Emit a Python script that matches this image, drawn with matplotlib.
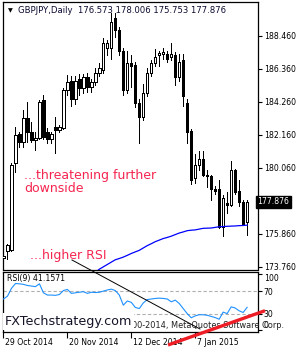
import matplotlib
matplotlib.use("Agg")
import matplotlib.pyplot as plt
import matplotlib.transforms as mtransforms
from matplotlib.lines import Line2D
import numpy as np

# ---------------- data ----------------
symbol_title = "GBPJPY,Daily  176.573 178.006 175.753 177.876"
opens = [174.30, 174.75, 174.81, 180.35, 182.20, 181.70, 183.20, 182.33, 181.80, 181.95,
         184.37, 182.30, 181.90, 182.64, 182.46, 182.58, 185.00, 185.60, 184.40, 185.70,
         185.10, 185.80, 185.20, 185.50, 186.10, 186.30, 187.70, 187.70, 189.60, 188.80,
         187.50, 185.00, 186.70, 186.60, 184.20, 183.30, 184.80, 186.10, 186.70, 187.20,
         187.30, 187.30, 187.10, 187.20, 185.80, 186.90, 184.20, 182.40, 179.40, 180.20,
         180.60, 179.60, 179.50, 178.70, 178.70, 176.30, 177.80, 177.70, 179.90, 178.60,
         177.90, 176.573]
highs = [174.50, 175.20, 180.35, 182.64, 182.30, 183.70, 184.24, 182.96, 182.33, 184.37,
         184.70, 182.60, 182.33, 183.30, 182.80, 185.10, 185.96, 185.90, 185.90, 186.00,
         186.00, 186.10, 185.70, 186.40, 186.70, 188.30, 188.20, 189.90, 189.90, 189.00,
         187.70, 187.50, 187.20, 186.80, 184.40, 185.40, 186.40, 186.90, 187.60, 187.50,
         187.70, 187.50, 188.00, 187.40, 187.30, 187.30, 184.40, 182.50, 180.90, 181.10,
         181.10, 179.90, 179.60, 178.90, 179.30, 178.30, 178.50, 180.50, 180.00, 179.30,
         178.00, 178.006]
lows = [174.23, 174.23, 174.75, 179.78, 181.40, 181.40, 181.70, 181.70, 181.20, 181.90,
        181.90, 181.60, 181.60, 181.00, 182.30, 182.50, 184.70, 183.98, 184.10, 184.70,
        184.80, 184.90, 184.90, 185.30, 185.90, 186.10, 187.20, 187.00, 188.40, 187.20,
        184.70, 184.80, 185.20, 183.90, 181.60, 183.10, 184.60, 185.90, 186.50, 186.50,
        187.00, 186.80, 186.90, 185.30, 185.60, 184.00, 181.60, 179.00, 179.10, 179.90,
        179.50, 178.80, 178.00, 178.40, 176.20, 175.70, 177.20, 177.60, 178.40, 177.60,
        176.40, 175.753]
closes = [174.42, 175.13, 180.23, 182.14, 181.70, 183.20, 182.33, 181.80, 181.95, 184.24,
          182.00, 181.90, 182.20, 182.46, 182.64, 185.00, 185.50, 184.40, 185.60, 185.10,
          185.80, 185.20, 185.50, 186.10, 186.40, 187.96, 187.96, 189.30, 188.80, 187.50,
          185.00, 186.70, 186.50, 184.20, 183.30, 184.80, 186.10, 186.70, 187.10, 187.35,
          187.40, 187.00, 187.30, 185.80, 186.80, 184.60, 182.30, 179.30, 180.20, 180.60,
          179.60, 179.50, 178.70, 178.60, 176.30, 178.10, 177.70, 179.90, 178.50, 177.90,
          176.50, 177.876]
ma_start = 23
ma_values = [173.40, 173.60, 173.75, 173.90, 174.05, 174.20, 174.28, 174.37, 174.48, 174.60,
             174.70, 174.80, 174.95, 175.10, 175.22, 175.35, 175.45, 175.55, 175.62, 175.70,
             175.80, 175.90, 175.97, 176.05, 176.08, 176.10, 176.15, 176.20, 176.21, 176.22,
             176.26, 176.30, 176.31, 176.33, 176.34, 176.35, 176.37, 176.38, 176.40]
rsi_values = [56, 61, 75, 83.5, 83, 82, 80, 79, 78, 83,
              67, 63, 63, 62.5, 64, 71, 73, 66, 67, 68,
              69, 66, 68, 67.5, 68, 70, 72, 73.5, 71, 63,
              45, 52.5, 50, 41, 39, 49, 55, 56, 57, 57.5,
              57, 56, 51, 54, 48, 39, 30, 22.6, 26, 28,
              28, 27, 25, 23, 20, 32.7, 30, 42, 40, 35,
              32, 41.16]
price_ticks = [188.460, 186.360, 184.260, 182.160, 180.060, 175.860, 173.760]
last_price = 177.876
rsi_ticks = [100, 70, 30, 0]
date_tick_idx = [0, 16, 32, 48]
date_labels = ["29 Oct 2014", "20 Nov 2014", "12 Dec 2014", "7 Jan 2015"]

# ---------------- figure ----------------
W, H = 300, 350
fig = plt.figure(figsize=(W / 100, H / 100), dpi=100)
fig.patch.set_facecolor("white")
FONT = "DejaVu Sans"
LBL = 5.6


def rect(x0, y0, x1, y1):
    return [x0 / W, 1 - y1 / H, (x1 - x0) / W, (y1 - y0) / H]


def fx(x):
    return x / W


def fy(y):
    return 1 - y / H


ax = fig.add_axes(rect(2.5, 2, 257.5, 269.5))
rax = fig.add_axes(rect(2.5, 272, 257.5, 331.5))

n = len(opens)
x = np.arange(n)
o = np.array(opens); c = np.array(closes); h = np.array(highs); l = np.array(lows)

ax.vlines(x, l, h, color="black", linewidth=0.72, zorder=2, antialiased=False)
bottoms = np.minimum(o, c)
heights = np.maximum(np.abs(c - o), 0.04)
faces = ["white" if cc >= oo else "black" for oo, cc in zip(o, c)]
ax.bar(x, heights, bottom=bottoms, width=0.58, color=faces, edgecolor="black",
       linewidth=0.72, zorder=3, antialiased=False)

ma_x = np.arange(ma_start, ma_start + len(ma_values))
ax.plot(ma_x, ma_values, color="#0000ff", linewidth=0.9, zorder=4)

ax.set_xlim(-0.25, 63.6)
ax.set_ylim(173.58, 190.60)
ax.set_xticks([])
ax.yaxis.tick_right()
ax.set_yticks(price_ticks)
ax.set_yticklabels([f"{v:.3f}" for v in price_ticks])
ax.tick_params(axis="y", length=3, width=0.8, pad=1.5, labelsize=LBL, direction="out")
for s in ax.spines.values():
    s.set_linewidth(0.9)

# current price box
ax.text(1.0, last_price, f"{last_price:.3f}",
        transform=mtransforms.blended_transform_factory(ax.transAxes, ax.transData),
        ha="left", va="center", fontsize=LBL, color="white", family=FONT,
        bbox=dict(boxstyle="square,pad=0.25", facecolor="black", edgecolor="black"), zorder=6, clip_on=False)

# RSI panel
rax.plot(x, rsi_values, color="#1e90ff", linewidth=0.8, zorder=3)
rax.axhline(70, color="#b0b0b0", linewidth=0.8, linestyle=(0, (3, 2)), zorder=1)
rax.axhline(30, color="#b0b0b0", linewidth=0.8, linestyle=(0, (3, 2)), zorder=1)
rax.set_xlim(-0.25, 63.6)
rax.set_ylim(-1.8, 104)
rax.yaxis.tick_right()
rax.set_yticks(rsi_ticks)
rax.set_yticklabels([str(v) for v in rsi_ticks])
rax.tick_params(axis="y", length=3, width=0.8, pad=1.5, labelsize=LBL, direction="out")
for tl, v in zip(rax.get_yticklabels(), rsi_ticks):
    if v == 100:
        tl.set_va("top")
    elif v == 0:
        tl.set_va("bottom")
rax.set_xticks(date_tick_idx)
rax.set_xticklabels(date_labels, ha="left")
rax.tick_params(axis="x", length=4, width=0.8, pad=1.0, labelsize=LBL, direction="out")
offs = mtransforms.ScaledTranslation(1.5 / 100, 0, fig.dpi_scale_trans)
for tl in rax.get_xticklabels():
    tl.set_transform(tl.get_transform() + offs)
for s in rax.spines.values():
    s.set_linewidth(0.9)

# header
fig.text(fx(7.5), fy(10.5), "\u25BC", fontsize=4.5, color="black", ha="left", va="center", family=FONT)
fig.text(fx(18), fy(10.5), symbol_title, fontsize=6.1, color="#0a0a30", ha="left", va="center", family=FONT)
fig.text(fx(7), fy(278.5), "RSI(9) 41.1571", fontsize=LBL, color="black", ha="left", va="center", family=FONT)

# annotations
red = "#f5254f"
fig.text(fx(24.5), fy(176), "...threatening further", fontsize=9.0, color=red, ha="left", va="center", family=FONT)
fig.text(fx(24.5), fy(189), "downside", fontsize=9.0, color=red, ha="left", va="center", family=FONT)
fig.text(fx(29.5), fy(255), "...higher RSI", fontsize=9.0, color=red, ha="left", va="center", family=FONT)

fig.add_artist(Line2D([fx(72), fx(200)], [fy(260), fy(329)], color="black", linewidth=0.7, zorder=8))

fig.text(fx(284), fy(326), "\u00A9 2000-2014, MetaQuotes Software Corp.", fontsize=5.9, color="#202020",
         ha="right", va="center", family=FONT, zorder=7)
fig.text(fx(5), fy(321.5), "FXTechstrategy.com", fontsize=9.2, color="#141428", ha="left", va="center",
         family=FONT, zorder=9,
         bbox=dict(boxstyle="square,pad=0.15", facecolor="white", edgecolor="none"))

fig.add_artist(Line2D([fx(168), fx(265)], [fy(345), fy(310.7)], color="#ee1c25", linewidth=2.4,
                      solid_capstyle="butt", zorder=10))

fig.savefig("out.png", dpi=100, facecolor="white")
